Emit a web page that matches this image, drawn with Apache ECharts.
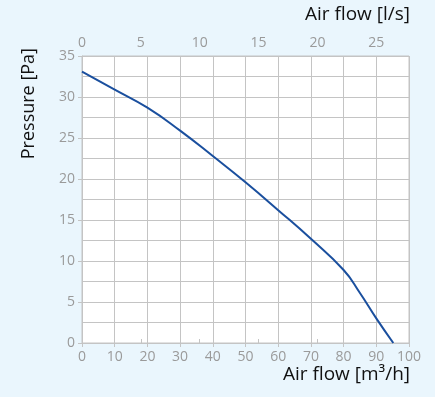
<!DOCTYPE html>
<html>
<head>
<meta charset="utf-8">
<script src="https://cdn.jsdelivr.net/npm/echarts@6/dist/echarts.min.js"></script>
<style>
  html, body { margin: 0; padding: 0; background: #eaf6fd; }
  #chart { width: 435px; height: 397px; }
</style>
</head>
<body>
<div id="chart"></div>
<script>
// air flow [m3/h] and pressure [Pa]
var flowM3h = [0, 10, 20, 30, 40, 50, 60, 70, 80, 85, 90, 95.2];
var pressurePa = [33.1, 30.9, 28.7, 25.9, 22.8, 19.6, 16.2, 12.7, 8.9, 6.1, 3.0, 0];
var flowMax = 100;
var flowLsMax = flowMax / 3.6;

var grey = '#9a9a9a';
var gridCol = '#c4c4c4';

var myChart = echarts.init(document.getElementById('chart'));
var option = {
    backgroundColor: '#eaf6fd',
    textStyle: { fontFamily: 'Open Sans' },
    grid: {
        left: 82, right: 26, top: 56, bottom: 54,
        show: true, backgroundColor: '#ffffff', borderColor: gridCol, borderWidth: 1
    },
    xAxis: [
        {
            type: 'value', min: 0, max: flowMax, interval: 10, position: 'bottom',
            axisLine: { show: true, onZero: false, lineStyle: { color: gridCol } },
            axisTick: { show: true, length: 4, lineStyle: { color: gridCol } },
            axisLabel: { color: grey, fontSize: 14, margin: 7 },
            splitLine: { show: true, lineStyle: { color: gridCol, width: 1 } }
        },
        {
            type: 'value', min: 0, max: flowLsMax, interval: 5, position: 'top',
            axisLine: { show: true, lineStyle: { color: gridCol } },
            axisTick: { show: true, length: 4, lineStyle: { color: gridCol } },
            axisLabel: { color: grey, fontSize: 14, margin: 6, showMaxLabel: false },
            splitLine: { show: false }
        }
    ],
    yAxis: {
        type: 'value', min: 0, max: 35, interval: 5,
        axisLine: { show: true, lineStyle: { color: gridCol } },
        axisTick: { show: true, length: 4, lineStyle: { color: gridCol } },
        axisLabel: { color: grey, fontSize: 14, margin: 7 },
        splitLine: { show: true, lineStyle: { color: gridCol, width: 1 } },
        minorTick: { show: false, splitNumber: 2 },
        minorSplitLine: { show: true, lineStyle: { color: gridCol, width: 1 } }
    },
    graphic: [
        { type: 'text', right: 25, top: 5,
          style: { text: 'Air flow [l/s]', fill: '#111', fontSize: 19, fontFamily: 'Open Sans' } },
        { type: 'text', right: 25, top: 365,
          style: { text: 'Air flow [m³/h]', fill: '#111', fontSize: 19, fontFamily: 'Open Sans' } },
        { type: 'text', left: 20, top: 48, rotation: Math.PI / 2,
          style: { text: 'Pressure [Pa]', fill: '#111', fontSize: 18, fontFamily: 'Open Sans' } }
    ],
    series: [
        {
            type: 'line',
            xAxisIndex: 0,
            data: flowM3h.map(function (f, i) { return [f, pressurePa[i]]; }),
            smooth: 0.5,
            showSymbol: false,
            lineStyle: { color: '#1a4f9e', width: 2 }
        }
    ]
};
myChart.setOption(option);
</script>
</body>
</html>
